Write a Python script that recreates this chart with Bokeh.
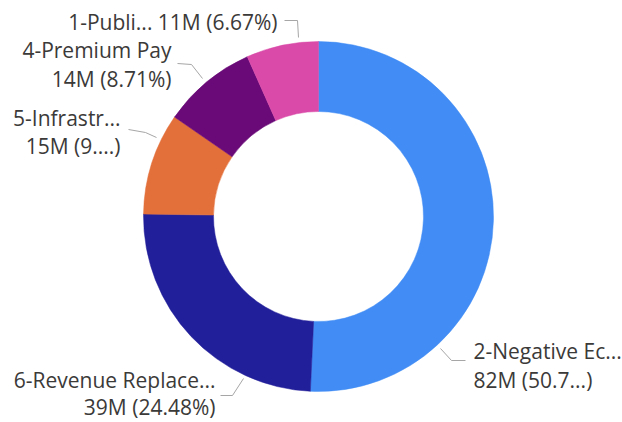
import math
from bokeh.plotting import figure
from bokeh.models import Range1d, ColumnDataSource
from bokeh.core.properties import value
from bokeh.embed import file_html
from bokeh.resources import INLINE

# ---- data (clockwise from 12 o'clock) ----
categories = ["2-Negative Ec...", "6-Revenue Replace...", "5-Infrastr...", "4-Premium Pay", "1-Publi..."]
values_m = [82, 39, 15, 14, 11]
percents = [50.74, 24.48, 9.40, 8.71, 6.67]
value_labels = ["82M (50.7...)", "39M (24.48%)", "15M (9....)", "14M (8.71%)", "11M (6.67%)"]
colors = ["#418CF5", "#221F9A", "#E36F3A", "#6A0A78", "#DA4BA9"]

W, H = 622, 422
p = figure(width=W, height=H, x_range=Range1d(0, W), y_range=Range1d(0, H),
           output_backend="svg", toolbar_location=None, min_border=0)
p.axis.visible = False
p.grid.visible = False
p.outline_line_color = None
p.background_fill_color = "white"

def X(ix):
    return ix

def Y(iy):
    return H - iy

cx, cy = X(318), Y(216)
R_OUT, R_IN = 175, 105

total = sum(percents)
starts, ends = [], []
cum = 0.0
for pc in percents:
    starts.append(math.pi / 2 - 2 * math.pi * cum / total)
    cum += pc
    ends.append(math.pi / 2 - 2 * math.pi * cum / total)

src = ColumnDataSource(dict(start=starts, end=ends, color=colors, cat=categories))
p.annular_wedge(x=cx, y=cy, inner_radius=R_IN, outer_radius=R_OUT,
                start_angle="start", end_angle="end", direction="clock",
                fill_color="color", line_color="color", line_width=0.5, source=src)

# ---- labels & leader lines (layout) ----
TXT = "#3b3a39"
FONT = value("Open Sans")
FS = "21px"
layout = [
    dict(lead=[(440, 348), (451, 360), (465, 360)], x=473, align="left", y1=350, y2=379, two=True),
    dict(lead=[(220, 395), (232, 395), (243, 378)], x=215, align="right", y1=379, y2=406, two=True),
    dict(lead=[(128, 129), (145, 132), (156, 137)], x=120, align="right", y1=117, y2=145, two=True),
    dict(lead=[(177, 63), (191, 64), (202, 78)], x=171, align="right", y1=49, y2=78, two=True),
    dict(lead=[(284, 20), (297, 20), (298, 37)], x=277, align="right", y1=21, y2=None, two=False),
]

for i, L in enumerate(layout):
    xs = [X(a) for a, b in L["lead"]]
    ys = [Y(b) for a, b in L["lead"]]
    p.line(xs, ys, line_color="#a6a6a6", line_width=1)
    if L["two"]:
        p.text(x=[X(L["x"])] * 2, y=[Y(L["y1"]), Y(L["y2"])],
               text=[categories[i], value_labels[i]],
               text_align=L["align"], text_baseline="middle",
               text_font=FONT, text_font_size=FS, text_color=TXT)
    else:
        p.text(x=[X(L["x"])], y=[Y(L["y1"])],
               text=[categories[i] + " " + value_labels[i]],
               text_align=L["align"], text_baseline="middle",
               text_font=FONT, text_font_size=FS, text_color=TXT)

open("out.html", "w").write(file_html(p, INLINE))
